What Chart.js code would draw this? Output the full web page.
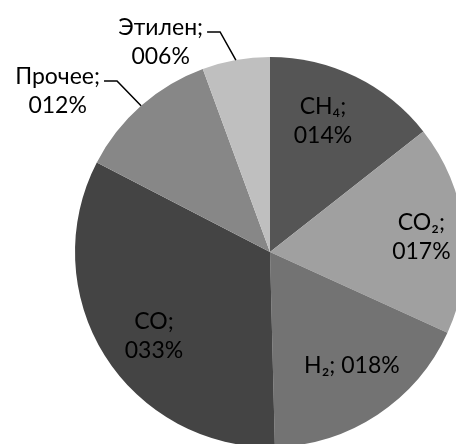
<!DOCTYPE html>
<html>
<head>
<meta charset="utf-8">
<script src="https://cdn.jsdelivr.net/npm/chart.js@4/dist/chart.umd.min.js"></script>
<style>
  html, body { margin: 0; padding: 0; background: #fff; overflow: hidden; width: 456px; height: 444px; }
  #wrap { position: absolute; left: 0; top: 0; width: 540px; height: 504px; }
</style>
</head>
<body>
<div id="wrap"><canvas id="chart" width="540" height="504"></canvas></div>
<script>
// ─── Data ─────────────────────────────────────────────────────────────────────
const names  = ['CH₄', 'CO₂', 'H₂', 'CO', 'Прочее', 'Этилен'];
const shares = [14.4, 17.4, 17.8, 33.0, 11.8, 5.6];
const colors = ['#555555', '#a0a0a0', '#737373', '#444444', '#878787', '#bfbfbf'];

// label placement: inside (radius fraction + angle nudge, degrees) or outside with leader
const labelLayout = [
  { mode: 'in', r: 0.725, da: -3.9, oneLine: false },
  { mode: 'in', r: 0.78,  da:  1.2, oneLine: false },
  { mode: 'in', r: 0.72,  da: -2.2, oneLine: true  },
  { mode: 'in', r: 0.735, da: -3.9, oneLine: false },
  { mode: 'out', r: 1.177, da: -0.4 },
  { mode: 'out', r: 1.157, da: -2.7 },
];

const FONT = '23px Lato, "Noto Sans", sans-serif';
const LINE_H = 29;

const pct = v => String(Math.round(v)).padStart(3, '0') + '%';

// ─── Labels plugin ────────────────────────────────────────────────────────────
const sliceLabels = {
  id: 'sliceLabels',
  afterDatasetsDraw(chart) {
    const ctx = chart.ctx;
    const meta = chart.getDatasetMeta(0);
    ctx.save();
    ctx.font = FONT;
    ctx.fillStyle = '#000';
    ctx.textAlign = 'center';
    ctx.textBaseline = 'middle';
    meta.data.forEach((arc, i) => {
      const p = arc.getProps(['x', 'y', 'startAngle', 'endAngle', 'outerRadius'], true);
      const lay = labelLayout[i];
      const mid = (p.startAngle + p.endAngle) / 2;
      const a = mid + lay.da * Math.PI / 180;
      const line1 = names[i] + ';';
      const line2 = pct(shares[i]);

      if (lay.mode === 'in') {
        const cx = p.x + Math.cos(a) * p.outerRadius * lay.r;
        const cy = p.y + Math.sin(a) * p.outerRadius * lay.r;
        if (lay.oneLine) {
          ctx.fillText(line1 + ' ' + line2, cx, cy);
        } else {
          ctx.fillText(line1, cx, cy - LINE_H / 2);
          ctx.fillText(line2, cx, cy + LINE_H / 2);
        }
        return;
      }

      // outside label with leader line
      const ex = p.x + Math.cos(mid) * p.outerRadius;
      const ey = p.y + Math.sin(mid) * p.outerRadius;
      const kx = p.x + Math.cos(a) * p.outerRadius * lay.r;
      const ky = p.y + Math.sin(a) * p.outerRadius * lay.r;
      const hx = kx - 13;
      ctx.beginPath();
      ctx.moveTo(ex, ey);
      ctx.lineTo(kx, ky);
      ctx.lineTo(hx, ky);
      ctx.strokeStyle = '#000';
      ctx.lineWidth = 1.5;
      ctx.stroke();

      const w = Math.max(ctx.measureText(line1).width, ctx.measureText(line2).width);
      const bx = hx - 4 - w / 2;
      ctx.fillText(line1, bx, ky - 4);
      ctx.fillText(line2, bx, ky - 4 + LINE_H);
    });
    ctx.restore();
  }
};

// ─── Chart ────────────────────────────────────────────────────────────────────
new Chart(document.getElementById('chart').getContext('2d'), {
  type: 'pie',
  data: {
    labels: names,
    datasets: [{
      data: shares,
      backgroundColor: colors,
      borderWidth: 0,
    }],
  },
  options: {
    responsive: false,
    animation: false,
    layout: { padding: { left: 75, right: 75, top: 57, bottom: 57 } },
    plugins: { legend: { display: false }, tooltip: { enabled: false } },
  },
  plugins: [sliceLabels],
});
</script>
</body>
</html>
